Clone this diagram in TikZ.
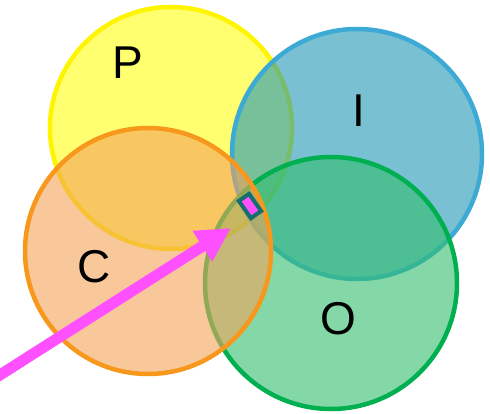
\documentclass[tikz,border=0pt]{standalone}
\usepackage{fontspec}
\setmainfont{Liberation Sans}
\usetikzlibrary{arrows.meta}

\definecolor{pfill}{RGB}{255,255,0}
\definecolor{pline}{RGB}{255,245,0}
\definecolor{ifill}{RGB}{31,150,180}
\definecolor{iline}{RGB}{60,170,213}
\definecolor{cfill}{RGB}{243,163,88}
\definecolor{cline}{RGB}{247,152,29}
\definecolor{ofill}{RGB}{50,190,110}
\definecolor{oline}{RGB}{0,176,80}
\definecolor{pointer}{RGB}{255,80,255}
\definecolor{mkline}{RGB}{20,110,110}

\tikzset{
  ring/.style={circle, line width=4.5pt, inner sep=0pt, fill opacity=0.6, draw opacity=1},
  letter/.style={font=\fontsize{46}{50}\selectfont, inner sep=0pt},
  pointline/.style={draw=pointer, line width=11pt, -{Triangle[length=34pt, width=34pt]}},
  marker/.style={draw=mkline, fill=pointer, line width=4pt, inner sep=0pt,
    minimum width=12.5pt, minimum height=21pt},
}

\begin{document}
\begin{tikzpicture}[x=1pt, y=-1pt]
  \useasboundingbox (0,0) rectangle (490,414);

  \node[ring, draw=pline, fill=pfill, fill opacity=0.56, minimum size=242pt] (pc) at (171,128) {};
  \node[ring, draw=iline, fill=ifill, minimum size=250pt] (ic) at (357,154) {};
  \node[ring, draw=oline, fill=ofill, minimum size=252pt] (oc) at (331,283) {};
  \node[ring, draw=cline, fill=cfill, minimum size=246pt] (cc) at (148,251) {};

  \node[letter] (pl) at (127.5,62.5) {P};
  \node[letter] (il) at (359,111) {I};
  \node[letter] (cl) at (94.5,267) {C};
  \node[letter] (ol) at (338,319) {O};

  \coordinate (tail) at (-10,381.3);
  \coordinate (tip) at (231,228);
  \draw[pointline] (tail) -- (tip);

  \node[marker, rotate=35] (mk) at (250,206) {};
\end{tikzpicture}
\end{document}
